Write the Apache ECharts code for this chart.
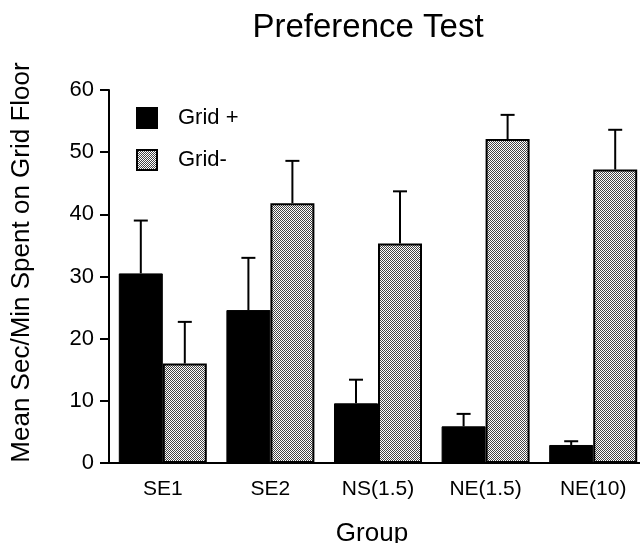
<!DOCTYPE html>
<html>
<head>
<meta charset="utf-8">
<script src="https://cdn.jsdelivr.net/npm/echarts@6/dist/echarts.min.js"></script>
<style>
  html, body { margin: 0; padding: 0; background: #fff; }
  #chart { width: 640px; height: 543px; }
</style>
</head>
<body>
<div id="chart"></div>
<script>
// values
const categories = ['SE1', 'SE2', 'NS(1.5)', 'NE(1.5)', 'NE(10)'];
const gridPlus = [30.5, 24.6, 9.6, 5.9, 2.9];
const gridPlusUpper = [39.0, 33.0, 13.4, 7.9, 3.5];
const gridMinus = [16.0, 41.8, 35.3, 52.1, 47.2];
const gridMinusUpper = [22.7, 48.6, 43.7, 56.0, 53.6];
const yTicks = [0, 10, 20, 30, 40, 50, 60];

const FONT = '"Liberation Sans", Arial, Helvetica, sans-serif';
const BAR_W = 44;

// fine stipple fill for the Grid- bars
function makeStipple() {
    const c = document.createElement('canvas');
    c.width = 2;
    c.height = 2;
    const ctx = c.getContext('2d');
    ctx.fillStyle = '#ffffff';
    ctx.fillRect(0, 0, 2, 2);
    ctx.fillStyle = '#444444';
    ctx.fillRect(0, 0, 1, 1);
    ctx.fillRect(1, 1, 1, 1);
    return c;
}
const stipple = { image: makeStipple(), repeat: 'repeat' };

function errorRows(upper, values) {
    return upper.map((u, i) => [i, u, values[i]]);
}

function errorSeries(name, rows, side) {
    return {
        name: name,
        type: 'custom',
        data: rows,
        z: 5,
        silent: true,
        renderItem: function (params, api) {
            const top = api.coord([api.value(0), api.value(1)]);
            const base = api.coord([api.value(0), api.value(2)]);
            const x = top[0] + side * BAR_W / 2;
            const capHalf = 7;
            const style = { stroke: '#000', lineWidth: 2 };
            return {
                type: 'group',
                children: [
                    { type: 'line', shape: { x1: x, y1: base[1], x2: x, y2: top[1] }, style: style },
                    { type: 'line', shape: { x1: x - capHalf, y1: top[1], x2: x + capHalf, y2: top[1] }, style: style }
                ]
            };
        }
    };
}

const chart = echarts.init(document.getElementById('chart'));

const option = {
    backgroundColor: '#fff',
    animation: false,
    title: {
        text: 'Preference Test',
        left: 363,
        top: 6,
        textAlign: 'center',
        textStyle: { fontFamily: FONT, fontSize: 33, fontWeight: 'normal', color: '#000' }
    },
    legend: {
        data: ['Grid +', 'Grid-'],
        orient: 'vertical',
        left: 136,
        top: 107,
        padding: 0,
        itemWidth: 20,
        itemHeight: 20,
        itemGap: 20,
        icon: 'rect',
        textStyle: { fontFamily: FONT, fontSize: 22, color: '#000', padding: [0, 0, 0, 16] }
    },
    grid: {
        left: 109,
        top: 90,
        width: 538,
        height: 373,
        outerBoundsMode: 'none'
    },
    xAxis: {
        type: 'category',
        data: categories,
        name: 'Group',
        nameLocation: 'middle',
        nameGap: 58,
        nameTextStyle: { fontFamily: FONT, fontSize: 26, color: '#000', padding: [0, 12, 0, 0] },
        axisLine: { lineStyle: { color: '#000', width: 2 } },
        axisTick: { alignWithLabel: true, length: 10, lineStyle: { color: '#000', width: 2 } },
        axisLabel: { fontFamily: FONT, fontSize: 21, color: '#000', margin: 16 }
    },
    yAxis: {
        type: 'value',
        min: yTicks[0],
        max: yTicks[yTicks.length - 1],
        interval: 10,
        name: 'Mean Sec/Min Spent on Grid Floor',
        nameLocation: 'middle',
        nameGap: 74,
        nameTextStyle: { fontFamily: FONT, fontSize: 26, color: '#000', padding: [0, 0, 0, 28] },
        splitLine: { show: false },
        axisLine: { show: true, lineStyle: { color: '#000', width: 2 } },
        axisTick: { show: true, length: 9, lineStyle: { color: '#000', width: 2 } },
        axisLabel: { fontFamily: FONT, fontSize: 22, color: '#000', margin: 15 }
    },
    series: [
        {
            name: 'Grid +',
            type: 'bar',
            data: gridPlus,
            barWidth: BAR_W,
            barGap: '0%',
            itemStyle: { color: '#000', borderColor: '#000', borderWidth: 1 }
        },
        {
            name: 'Grid-',
            type: 'bar',
            data: gridMinus,
            barWidth: BAR_W,
            barGap: '0%',
            itemStyle: { color: stipple, borderColor: '#000', borderWidth: 2 }
        },
        errorSeries('Grid + err', errorRows(gridPlusUpper, gridPlus), -1),
        errorSeries('Grid- err', errorRows(gridMinusUpper, gridMinus), 1)
    ]
};

chart.setOption(option);
</script>
</body>
</html>
